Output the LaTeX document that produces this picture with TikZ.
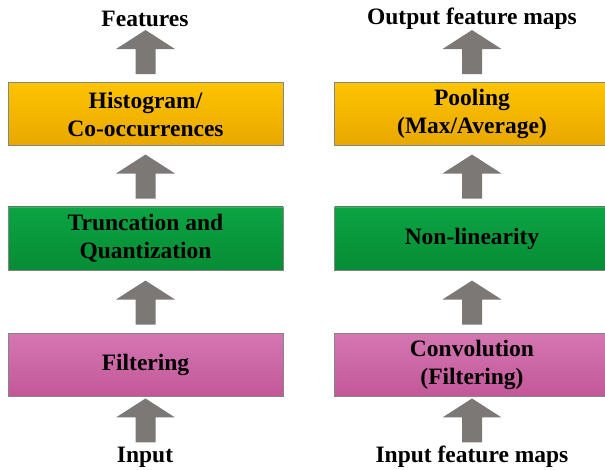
\documentclass[tikz,border=0pt]{standalone}
\usepackage{fontspec}
\setmainfont{Liberation Serif}
\usetikzlibrary{calc}
\definecolor{ytop}{HTML}{FDC400}
\definecolor{ybot}{HTML}{E9A700}
\definecolor{gtop}{HTML}{0BA443}
\definecolor{gbot}{HTML}{078C35}
\definecolor{ptop}{HTML}{D477B2}
\definecolor{pbot}{HTML}{C35799}
\definecolor{boxedge}{HTML}{858585}
\definecolor{arrgray}{HTML}{7C7876}
\tikzset{
  txt/.style={font=\fontsize{23.5}{28}\selectfont\bfseries, align=center},
  box/.style={txt, draw=boxedge, line width=0.9pt, minimum width=275pt, minimum height=63pt, inner sep=0pt},
  ybox/.style={box, top color=ytop, bottom color=ybot},
  gbox/.style={box, top color=gtop, bottom color=gbot},
  pbox/.style={box, top color=ptop, bottom color=pbot},
  lbl/.style={txt, inner sep=0pt},
  uparr/.pic={\fill[arrgray] (-10,0) -- (-10,-25) -- (-29.5,-25) -- (0,-44) -- (29.5,-25) -- (10,-25) -- (10,0) -- cycle;}
}
\begin{document}
\begin{tikzpicture}[x=1pt,y=-1pt]
\useasboundingbox (0,0) rectangle (605,470);
% left column
\node[lbl] (featL) at (145,19) {Features};
\node[ybox] (yL) at (145.5,114) {Histogram/\\Co-occurrences};
\node[gbox] (gL) at (145.5,238.5) {Truncation and\\Quantization};
\node[pbox] (pL) at (145.5,364.5) {Filtering};
\node[lbl] (inL) at (145,457) {Input};
\pic at ($(yL.north)+(0,-8)$) {uparr};
\pic at ($(gL.north)+(0,-8)$) {uparr};
\pic at ($(pL.north)+(0,-8)$) {uparr};
\pic at ($(pL.south)+(0,46)$) {uparr};
% right column
\node[lbl] (featR) at (472,19) {Output feature maps};
\node[ybox] (yR) at (472,114) {Pooling\\(Max/Average)};
\node[gbox] (gR) at (472,238.5) {Non-linearity};
\node[pbox] (pR) at (472,364.5) {Convolution\\(Filtering)};
\node[lbl] (inR) at (472,457) {Input feature maps};
\pic at ($(yR.north)+(0,-8)$) {uparr};
\pic at ($(gR.north)+(0,-8)$) {uparr};
\pic at ($(pR.north)+(0,-8)$) {uparr};
\pic at ($(pR.south)+(0,46)$) {uparr};
\end{tikzpicture}
\end{document}
